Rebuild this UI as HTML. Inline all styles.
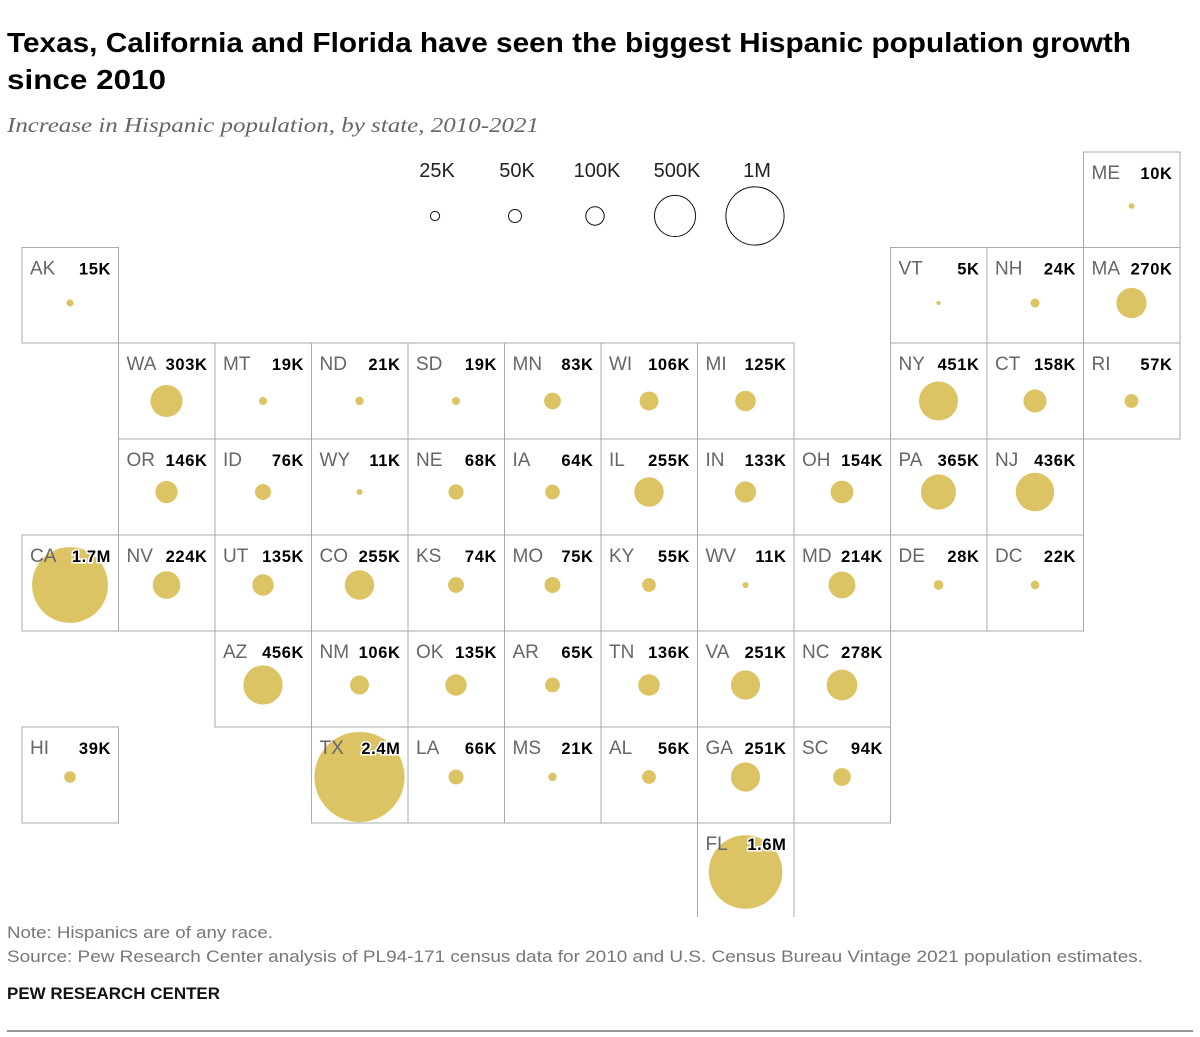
<!DOCTYPE html>
<html><head><meta charset="utf-8"><style>
body{margin:0;background:#fff;width:1200px;height:1037px;overflow:hidden;font-family:"Liberation Sans",sans-serif}
svg{position:absolute;left:0;top:0}
</style></head><body>
<svg width="1200" height="1037">
<text x="7" y="52" font-size="28" font-weight="bold" fill="#000" textLength="1124" lengthAdjust="spacingAndGlyphs">Texas, California and Florida have seen the biggest Hispanic population growth</text>
<text x="7" y="89" font-size="28" font-weight="bold" fill="#000" textLength="159" lengthAdjust="spacingAndGlyphs">since 2010</text>
<text x="7" y="132" font-size="21" font-style="italic" font-family="Liberation Serif,serif" fill="#666" textLength="532" lengthAdjust="spacingAndGlyphs">Increase in Hispanic population, by state, 2010-2021</text>
<g id="legend"></g>
<g id="grid"></g>
<text x="7" y="938" font-size="17" fill="#777" textLength="266" lengthAdjust="spacingAndGlyphs">Note: Hispanics are of any race.</text>
<text x="7" y="962" font-size="17" fill="#777" textLength="1136" lengthAdjust="spacingAndGlyphs">Source: Pew Research Center analysis of PL94-171 census data for 2010 and U.S. Census Bureau Vintage 2021 population estimates.</text>
<text x="7" y="999" font-size="17" font-weight="bold" fill="#111" textLength="213" lengthAdjust="spacingAndGlyphs">PEW RESEARCH CENTER</text>
<line x1="7" x2="1193" y1="1031" y2="1031" stroke="#333" stroke-width="1"/>
</svg>
<script>
const states=["ME","AK","VT","NH","MA","WA","MT","ND","SD","MN","WI","MI","NY","CT","RI","OR","ID","WY","NE","IA","IL","IN","OH","PA","NJ","CA","NV","UT","CO","KS","MO","KY","WV","MD","DE","DC","AZ","NM","OK","AR","TN","VA","NC","HI","TX","LA","MS","AL","GA","SC","FL"];
const cols=[11,0,9,10,11,1,2,3,4,5,6,7,9,10,11,1,2,3,4,5,6,7,8,9,10,0,1,2,3,4,5,6,7,8,9,10,2,3,4,5,6,7,8,0,3,4,5,6,7,8,7];
const rows=[0,1,1,1,1,2,2,2,2,2,2,2,2,2,2,3,3,3,3,3,3,3,3,3,3,4,4,4,4,4,4,4,4,4,4,4,5,5,5,5,5,5,5,6,6,6,6,6,6,6,7];
const values=[10,15,5,24,270,303,19,21,19,83,106,125,451,158,57,146,76,11,68,64,255,133,154,365,436,1700,224,135,255,74,75,55,11,214,28,22,456,106,135,65,136,251,278,39,2400,66,21,56,251,94,1600];
const legendValues=[25,50,100,500,1000];
const legendLabels=["25K","50K","100K","500K","1M"];
const NS="http://www.w3.org/2000/svg";
const rowTop=[152,247.5,343,439,535,631,727,823,917];
const rowCy=[206,303,401,492,585,685,777,872];
const colX=c=>22+96.5*c;
const r=v=>0.92*Math.sqrt(v);
const fmt=v=>v>=1000?(v/1000).toFixed(1)+"M":v+"K";
function mk(tag,attrs,parent){const e=document.createElementNS(NS,tag);for(const k in attrs)e.setAttribute(k,attrs[k]);parent.appendChild(e);return e;}
const grid=document.getElementById('grid');
states.forEach((s,i)=>{
 const x=colX(cols[i]),y=rowTop[rows[i]],w=96.5,h=rowTop[rows[i]+1]-y;
 const last=rows[i]===7;
 const d=last?`M${x},${y+h}V${y}H${x+w}V${y+h}`:`M${x},${y}H${x+w}V${y+h}H${x}Z`;
 const p=mk('path',{d:d,fill:'#fff',stroke:'#aaa','stroke-width':1},grid);
 
 
});
states.forEach((s,i)=>{
 const x=colX(cols[i]),y=rowTop[rows[i]];
 const c=mk('circle',{cx:x+48,cy:rowCy[rows[i]],r:r(values[i]),fill:'#dcc364'},grid);
 
 
 const t=mk('text',{x:x+8,y:y+27,'font-size':19,fill:'#666'},grid);
 t.textContent=s;
 
 
 const txt=fmt(values[i]);
 const v=mk('text',{x:x+89,y:y+27,'font-size':16.5,'font-weight':'bold','text-anchor':'end',fill:'#000',stroke:'#fff','stroke-width':3,'paint-order':'stroke','letter-spacing':0.6},grid);
 v.textContent=txt;
 
 
});
const lg=document.getElementById('legend');
legendValues.forEach((v,i)=>{
 const cx=437+80*i;
 const t=mk('text',{x:cx,y:177,'font-size':20,'text-anchor':'middle',fill:'#222'},lg);
 t.textContent=legendLabels[i];
 
 
 const c=mk('circle',{cx:cx-2,cy:216,r:r(v),fill:'#fff',stroke:'#111','stroke-width':1},lg);
 
 
});
</script>
</body></html>
